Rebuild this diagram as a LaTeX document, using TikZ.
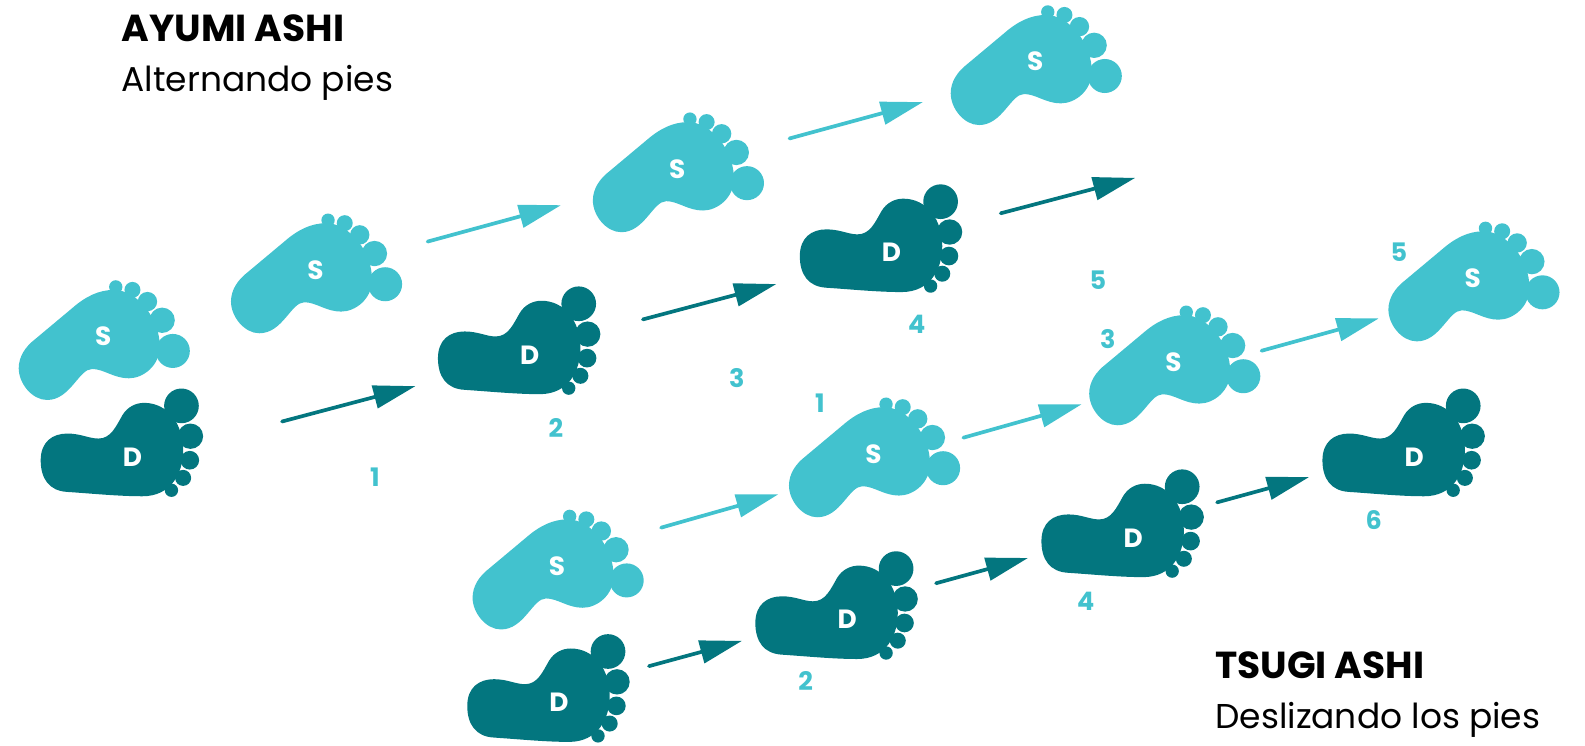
\documentclass[tikz,border=0pt]{standalone}
\usepackage{fontspec}
\setmainfont{Poppins}
\usetikzlibrary{arrows.meta}

\definecolor{footlight}{HTML}{42C2CE}
\definecolor{footdark}{HTML}{03767F}

\tikzset{
    steparrow/.style={line width=2.1pt, line cap=round, -{Triangle[length=24pt,width=13pt]}},
    numlabel/.style={text=footlight, font=\fontsize{14.5}{15}\selectfont\bfseries, inner sep=0pt},
    footlabel/.style={text=white, font=\fontsize{15}{16}\selectfont\bfseries, inner sep=0pt},
    titlelabel/.style={anchor=west, inner sep=0pt, font=\fontsize{21.4}{22}\selectfont\bfseries},
    sublabel/.style={anchor=west, inner sep=0pt, font=\fontsize{19.6}{21}\selectfont},
    sfoot/.pic={
        \begin{scope}[scale=0.33,shift={(-308,-225)}]
            \fill[footlight] (55,320) .. controls (55,285) and (75,255) .. (105,232) -- (215,140)
                .. controls (255,105) and (295,85) .. (340,85)
                .. controls (410,85) and (478,170) .. (478,255)
                .. controls (478,310) and (430,350) .. (385,350)
                .. controls (340,350) and (310,322) .. (275,322)
                .. controls (235,322) and (210,415) .. (140,415)
                .. controls (95,415) and (55,365) .. (55,320) -- cycle;
            \fill[footlight] (346,76) circle (20) (396,85) circle (24) (441,120) circle (29) (485,176) circle (38) (517,268) circle (51);
        \end{scope}
        \node[footlabel] (-letter) at (0,0) {S};
    },
    dfoot/.pic={
        \begin{scope}[scale=0.33,shift={(-400,-590)}]
            \fill[footdark] (125,600) .. controls (125,545) and (160,520) .. (205,520)
                .. controls (245,520) and (270,535) .. (298,535)
                .. controls (335,535) and (350,500) .. (370,465)
                .. controls (385,440) and (410,428) .. (435,428)
                .. controls (505,428) and (552,490) .. (552,570)
                .. controls (552,640) and (515,708) .. (430,708)
                .. controls (360,708) and (280,700) .. (205,695)
                .. controls (150,692) and (125,655) .. (125,600) -- cycle;
            \fill[footdark] (547,437) circle (52) (574,528) circle (38) (572,600) circle (28) (552,653) circle (24) (517,690) circle (20);
        \end{scope}
        \node[footlabel] (-letter) at (0,0) {D};
    }
}

\begin{document}
\begin{tikzpicture}[x=0.02022cm,y=-0.02022cm]
    \useasboundingbox (0,0) rectangle (1568,738);

    % Ayumi ashi
    \node[titlelabel] (ayumititle) at (120,28) {AYUMI ASHI};
    \node[sublabel] (ayumisub) at (120,82) {Alternando pies};
    \pic (sa) at (102,333) {sfoot};
    \pic (sb) at (312,267) {sfoot};
    \pic (sc) at (670,167) {sfoot};
    \pic (sd) at (1024,61) {sfoot};
    \pic (da) at (131,452) {dfoot};
    \pic (db) at (524,351) {dfoot};
    \pic (dc) at (882,250) {dfoot};
    \node[numlabel] (na) at (371,472) {1};
    \node[numlabel] (nb) at (550,423) {2};
    \node[numlabel] (nc) at (729,374) {3};
    \node[numlabel] (nd) at (907,321) {4};
    \node[numlabel] (ne) at (1086,277) {5};
    \coordinate (ar1s) at (279,417);
    \coordinate (ar1e) at (411,382);
    \coordinate (ar2s) at (423,239);
    \coordinate (ar2e) at (555,203);
    \coordinate (ar3s) at (636,316);
    \coordinate (ar3e) at (768,281);
    \coordinate (ar4s) at (781,137);
    \coordinate (ar4e) at (913,101);
    \coordinate (ar5s) at (990,211);
    \coordinate (ar5e) at (1123,176);
    \draw[steparrow, footdark] (ar1s) -- (ar1e);
    \draw[steparrow, footlight] (ar2s) -- (ar2e);
    \draw[steparrow, footdark] (ar3s) -- (ar3e);
    \draw[steparrow, footlight] (ar4s) -- (ar4e);
    \draw[steparrow, footdark] (ar5s) -- (ar5e);

    % Tsugi ashi
    \node[titlelabel] (tsugititle) at (1202,658) {TSUGI ASHI};
    \node[sublabel] (tsugisub) at (1202,712) {Deslizando los pies};
    \pic (se) at (551,560) {sfoot};
    \pic (sf) at (864,449) {sfoot};
    \pic (sg) at (1161,358) {sfoot};
    \pic (sh) at (1457,275) {sfoot};
    \pic (dd) at (553,695) {dfoot};
    \pic (de) at (838,613) {dfoot};
    \pic (df) at (1121,532) {dfoot};
    \pic (dg) at (1399,452) {dfoot};
    \node[numlabel] (nf) at (811,399) {1};
    \node[numlabel] (ng) at (797,674) {2};
    \node[numlabel] (nh) at (1096,335) {3};
    \node[numlabel] (ni) at (1074,595) {4};
    \node[numlabel] (nj) at (1384,249) {5};
    \node[numlabel] (nk) at (1359,514) {6};
    \coordinate (br1s) at (654,522);
    \coordinate (br1e) at (770,489);
    \coordinate (br2s) at (953,433);
    \coordinate (br2e) at (1070,400);
    \coordinate (br3s) at (1248,347);
    \coordinate (br3e) at (1364,315);
    \coordinate (br4s) at (642,659);
    \coordinate (br4e) at (734,634);
    \coordinate (br5s) at (926,577);
    \coordinate (br5e) at (1017,552);
    \coordinate (br6s) at (1204,497);
    \coordinate (br6e) at (1295,472);
    \draw[steparrow, footlight] (br1s) -- (br1e);
    \draw[steparrow, footlight] (br2s) -- (br2e);
    \draw[steparrow, footlight] (br3s) -- (br3e);
    \draw[steparrow, footdark] (br4s) -- (br4e);
    \draw[steparrow, footdark] (br5s) -- (br5e);
    \draw[steparrow, footdark] (br6s) -- (br6e);
\end{tikzpicture}
\end{document}
